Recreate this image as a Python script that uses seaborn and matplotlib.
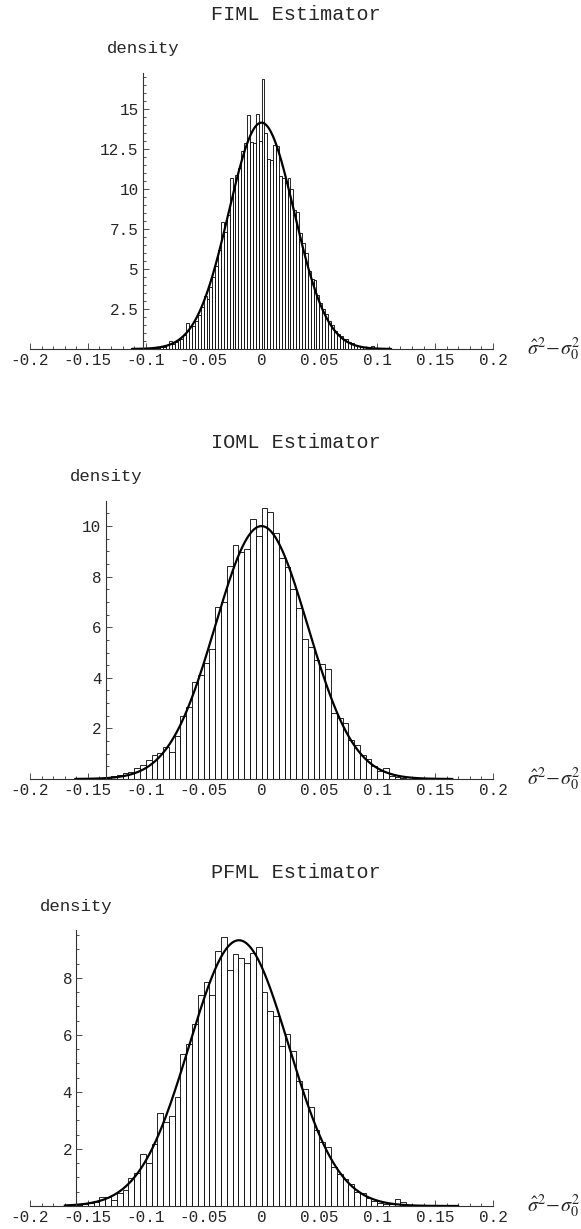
import numpy as np
import pandas as pd
import matplotlib
matplotlib.use("Agg")
import matplotlib.pyplot as plt
import matplotlib.transforms as mtransforms
from matplotlib.ticker import MultipleLocator
import seaborn as sns

# ---- data ----
TITLES = ["FIML Estimator", "IOML Estimator", "PFML Estimator"]

# FIML: bins of 0.0025 starting at -0.11
FIML_START = -0.11
FIML_WIDTH = 0.0025
FIML_HEIGHTS = [
    0.02, 0.02, 0.03, 0.02, 0.05, 0.04, 0.06, 0.08, 0.07, 0.12,
    0.15, 0.22, 0.50, 0.32, 0.42, 0.55, 0.62, 0.85, 1.60, 1.45,
    1.45, 1.75, 2.10, 2.60, 3.30, 3.15, 3.90, 4.50, 5.20, 6.20,
    7.96, 7.30, 8.40, 10.70, 10.10, 10.90, 11.30, 12.40, 12.90, 14.65,
    12.95, 12.85, 14.70, 13.00,
    16.90, 13.50, 11.85, 11.80, 12.75, 12.70, 10.80, 10.70, 10.35, 10.67,
    9.98, 8.70, 8.58, 7.23, 6.60, 5.98, 4.90, 4.40, 4.31, 3.40,
    2.85, 2.50, 2.20, 1.75, 1.50, 1.15, 0.95, 0.80, 0.65, 0.62,
    0.45, 0.35, 0.25, 0.20, 0.15, 0.10, 0.08, 0.05, 0.18, 0.08,
    0.04, 0.05, 0.03, 0.02, 0.02,
]
FIML_MEAN, FIML_SD = 0.0, 0.0282
FIML_CURVE_RANGE = (-0.112, 0.112)

# IOML: bins of 0.005 starting at -0.14
IOML_START = -0.14
IOML_WIDTH = 0.005
IOML_HEIGHTS = [
    0.04, 0.06, 0.10, 0.15, 0.23, 0.29, 0.42, 0.55, 0.75, 0.95,
    1.01, 1.28, 1.08, 1.70, 2.49, 2.83, 3.82, 4.11, 4.60, 5.13,
    6.78, 7.01, 8.43, 9.27, 8.99, 9.08, 10.28, 9.62,
    10.72, 10.57, 9.72, 8.73, 8.39, 7.50, 6.75, 5.53, 5.23, 4.70,
    4.55, 4.35, 2.60, 2.41, 2.20, 1.54, 1.34, 0.95, 0.79, 0.51,
    0.30, 0.42, 0.12, 0.06, 0.03,
]
IOML_MEAN, IOML_SD = 0.0, 0.0399
IOML_CURVE_RANGE = (-0.161, 0.165)

# PFML: bins of 0.005 starting at -0.17
PFML_START = -0.17
PFML_WIDTH = 0.005
PFML_HEIGHTS = [
    0.01, 0.02, 0.04, 0.06, 0.10, 0.15, 0.30, 0.33, 0.21, 0.47,
    0.56, 0.97, 1.15, 1.81, 1.50, 2.17, 3.25, 2.94, 3.17, 3.81,
    5.33, 5.68, 6.39, 7.40, 7.84, 7.40, 8.95, 9.42, 8.26, 8.84,
    8.69, 8.52, 8.89, 9.10,
    7.52, 6.85, 6.68, 5.62, 6.04, 5.45, 4.40, 4.10, 3.46, 2.67,
    2.26, 2.08, 1.38, 1.12, 0.95, 0.78, 0.50, 0.45, 0.28, 0.16,
    0.12, 0.08, 0.06, 0.26, 0.14, 0.04, 0.03, 0.02, 0.02, 0.01,
    0.02, 0.01, 0.01, 0.01,
]
PFML_MEAN, PFML_SD = -0.0195, 0.0428
PFML_CURVE_RANGE = (-0.170, 0.170)

X_TICKS = [-0.2, -0.15, -0.1, -0.05, 0, 0.05, 0.1, 0.15, 0.2]
X_TICK_LABELS = ["-0.2", "-0.15", "-0.1", "-0.05", "0", "0.05", "0.1", "0.15", "0.2"]
FIML_Y_TICKS = [2.5, 5, 7.5, 10, 12.5, 15]
FIML_Y_LABELS = ["2.5", "5", "7.5", "10", "12.5", "15"]
IOML_Y_TICKS = [2, 4, 6, 8, 10]
IOML_Y_LABELS = ["2", "4", "6", "8", "10"]
PFML_Y_TICKS = [2, 4, 6, 8]
PFML_Y_LABELS = ["2", "4", "6", "8"]

# where the vertical axis crosses the x axis in each panel
Y_AXIS_AT = [-0.1025, -0.1346, -0.160]

# ---- layout (pixels of the 581x1229 figure) ----
W, H = 581, 1229
AX_LEFT, AX_RIGHT = 30, 493
PANEL_BOX = [(73, 349), (501, 779), (930, 1206)]  # top, bottom
Y_MAX = [17.25, 10.99, 9.68]
Y_MINOR = [0.5, 0.5, 0.5]

sns.set_theme(style="white")
plt.rcParams["font.family"] = ["Liberation Mono", "DejaVu Sans"]
plt.rcParams["mathtext.fontset"] = "stix"

fig = plt.figure(figsize=(W / 100, H / 100), dpi=100)

panels = [
    (FIML_START, FIML_WIDTH, FIML_HEIGHTS, FIML_MEAN, FIML_SD, FIML_CURVE_RANGE,
     FIML_Y_TICKS, FIML_Y_LABELS),
    (IOML_START, IOML_WIDTH, IOML_HEIGHTS, IOML_MEAN, IOML_SD, IOML_CURVE_RANGE,
     IOML_Y_TICKS, IOML_Y_LABELS),
    (PFML_START, PFML_WIDTH, PFML_HEIGHTS, PFML_MEAN, PFML_SD, PFML_CURVE_RANGE,
     PFML_Y_TICKS, PFML_Y_LABELS),
]

for i, (start, width, heights, mu, sd, crange, yt, ytl) in enumerate(panels):
    top, bot = PANEL_BOX[i]
    h_px = bot - top
    ax = fig.add_axes([AX_LEFT / W, 1 - bot / H, (AX_RIGHT - AX_LEFT) / W, h_px / H])

    n = len(heights)
    edges = [start + width * k for k in range(n + 1)]
    df = pd.DataFrame({"x": [start + width * (k + 0.5) for k in range(n)],
                       "w": heights})

    sns.histplot(data=df, x="x", weights="w", bins=edges, stat="count",
                 color="white", edgecolor="black", linewidth=0.6, alpha=1, ax=ax)

    # fitted normal density
    xs = np.linspace(crange[0], crange[1], 400)
    ys = np.exp(-0.5 * ((xs - mu) / sd) ** 2) / (sd * np.sqrt(2 * np.pi))
    sns.lineplot(x=xs, y=ys, color="black", linewidth=1.6, ax=ax)

    ax.set_xlim(-0.2, 0.2)
    ax.set_ylim(0, Y_MAX[i])
    ax.set_xlabel("")
    ax.set_ylabel("")

    for s in ["top", "right"]:
        ax.spines[s].set_visible(False)
    ax.spines["left"].set_position(("data", Y_AXIS_AT[i]))
    for s in ["left", "bottom"]:
        ax.spines[s].set_color("#333333")
        ax.spines[s].set_linewidth(0.8)

    ax.set_xticks(X_TICKS)
    ax.set_xticklabels(X_TICK_LABELS)
    ax.set_yticks(yt)
    ax.set_yticklabels(ytl)
    ax.xaxis.set_minor_locator(MultipleLocator(0.01))
    ax.yaxis.set_minor_locator(MultipleLocator(Y_MINOR[i]))
    ax.tick_params(which="both", direction="in", bottom=True, left=True,
                   color="#333333", width=0.6, labelsize=11.5, pad=3)
    ax.tick_params(which="major", length=4)
    ax.tick_params(which="minor", length=2)

    ax.text((296 - AX_LEFT) / (AX_RIGHT - AX_LEFT), 1 + 58 / h_px, TITLES[i],
            transform=ax.transAxes, ha="center", va="center", fontsize=14.5)

    trans = mtransforms.blended_transform_factory(ax.transData, ax.transAxes)
    ax.text(Y_AXIS_AT[i], 1 + 24 / h_px, "density", transform=trans,
            ha="center", va="center", fontsize=12.5)

    trans2 = mtransforms.blended_transform_factory(ax.transAxes, ax.transData)
    ax.text((527 - AX_LEFT) / (AX_RIGHT - AX_LEFT), 0, r"$\hat{\sigma}^2\!-\!\sigma_0^2$",
            transform=trans2, ha="left", va="center", fontsize=14.5)

fig.savefig("out.png", dpi=100)
